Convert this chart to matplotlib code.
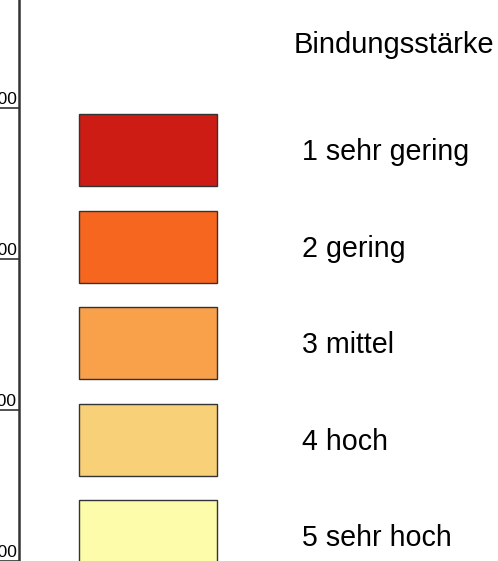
import matplotlib
matplotlib.use("Agg")
import matplotlib.pyplot as plt

plt.rcParams['font.family'] = ['Liberation Sans', 'DejaVu Sans']

# legend classes
class_labels = ["1 sehr gering", "2 gering", "3 mittel", "4 hoch", "5 sehr hoch"]
class_colors = ["#cc1c14", "#f7661e", "#f8a04a", "#f8d078", "#fcfcaa"]
legend_title = "Bindungsstärke"

# cut-off axis on the left
tick_pos = [108, 259, 410, 561]
tick_labels = ["300", "200", "100", "000"]

W, H = 498, 561
fig = plt.figure(figsize=(W / 100, H / 100), dpi=100)
left = 19
ax = fig.add_axes([left / W, 0, 1 - left / W, 1])
ax.set_xlim(0, W - left)
ax.set_ylim(H, 0)

for s in ["top", "right", "bottom"]:
    ax.spines[s].set_visible(False)
ax.spines["left"].set_linewidth(1.8)
ax.spines["left"].set_color("#333333")
ax.set_xticks([])
ax.set_yticks(tick_pos)
ax.set_yticklabels([])
ax.tick_params(axis="y", direction="out", length=left * 0.72, width=1.2, color="#333333")
for p, t in zip(tick_pos, tick_labels):
    ax.text(-2, p - 1, t, ha="right", va="bottom", fontsize=12.5, clip_on=False)

# legend boxes
row0, step = 150, 96.5
box_x, box_w, box_h = 60, 138, 72
ys = [row0 + i * step for i in range(len(class_labels))]
ax.barh(ys, [box_w] * len(ys), height=box_h, left=box_x, color=class_colors,
        edgecolor="#333333", linewidth=1.0)
for y, lab in zip(ys, class_labels):
    ax.text(283, y + 2, lab, ha="left", va="center", fontsize=20.6)

ax.text(275, 45, legend_title, ha="left", va="center", fontsize=21)

fig.savefig("out.png", dpi=100)
